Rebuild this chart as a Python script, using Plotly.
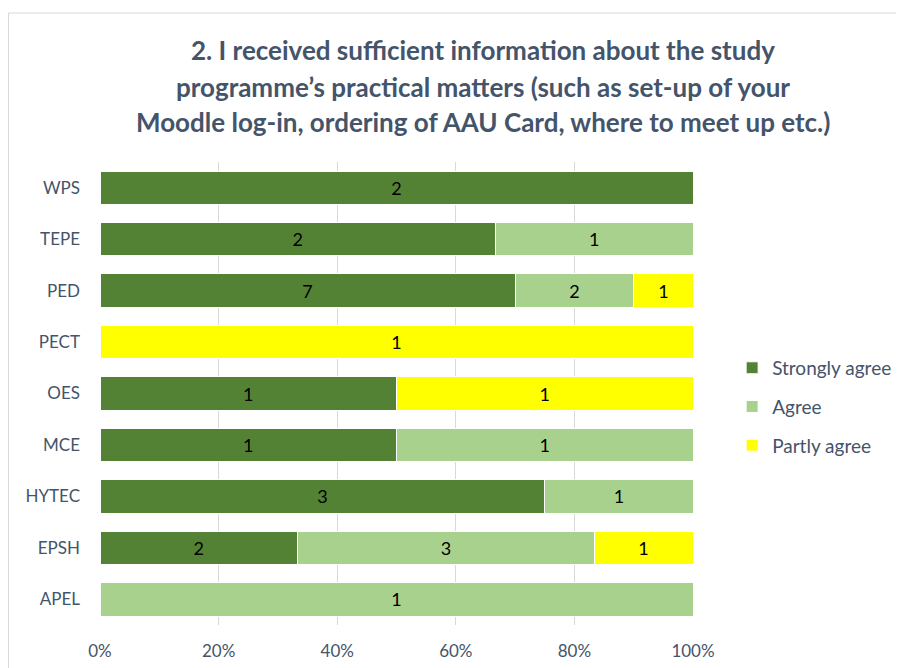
import plotly.graph_objects as go

programmes = ["WPS", "TEPE", "PED", "PECT", "OES", "MCE", "HYTEC", "EPSH", "APEL"]
strongly_agree = [2, 2, 7, 0, 1, 1, 3, 2, 0]
agree = [0, 1, 2, 0, 0, 1, 1, 3, 1]
partly_agree = [0, 0, 1, 1, 1, 0, 0, 1, 0]

series = [
    ("Strongly agree", strongly_agree, "#548235"),
    ("Agree", agree, "#A9D18E"),
    ("Partly agree", partly_agree, "#FFFF00"),
]

title_lines = [
    "2. I received sufficient information about the study",
    "programme’s practical matters (such as set-up of your",
    "Moodle log-in, ordering of AAU Card, where to meet up etc.)",
]

totals = [a + b + c for a, b, c in zip(strongly_agree, agree, partly_agree)]
FONT = "Lato, sans-serif"
TXT = "#44546A"

# plot area in figure pixels
L, T, PW, PH = 92, 154, 593, 463

fig = go.Figure()
for name, counts, color in series:
    shares = [c / t for c, t in zip(counts, totals)]
    fig.add_trace(go.Bar(
        y=programmes, x=shares, orientation="h", name=name,
        legendgroup=name,
        marker=dict(color=color, line=dict(color="white", width=1)),
        text=[str(c) if c else "" for c in counts],
        textposition="inside", insidetextanchor="middle",
        textfont=dict(color="black", size=18, family=FONT),
        hovertemplate=name + ": %{text}<extra></extra>",
    ))

# title lines as separate annotations to mimic the wide Excel line spacing
for ypos, line in zip([1.242, 1.162, 1.086], title_lines):
    fig.add_annotation(
        xref="paper", yref="paper", x=(475 - L) / PW, y=ypos,
        text=f"<b>{line}</b>", showarrow=False, xanchor="center", yanchor="middle",
        font=dict(size=26, color=TXT, family=FONT),
    )

# chart border
fig.add_shape(type="rect", xref="paper", yref="paper",
              x0=(0.5 - L) / PW, x1=1.6, y0=-0.3, y1=1 + (T - 5) / PH,
              line=dict(color="#D9D9D9", width=1), fillcolor="rgba(0,0,0,0)", layer="below")

fig.update_xaxes(
    range=[0, 1], tickvals=[0, 0.2, 0.4, 0.6, 0.8, 1.0], tickformat=".0%",
    showgrid=True, gridcolor="#D9D9D9", gridwidth=1, zeroline=False,
    ticklabelstandoff=14,
    tickfont=dict(size=17, color=TXT, family=FONT),
)
fig.update_yaxes(
    categoryorder="array", categoryarray=programmes, autorange="reversed",
    showgrid=False, ticklabelstandoff=19,
    tickfont=dict(size=17, color=TXT, family=FONT),
)

fig.update_layout(
    width=904, height=668,
    barmode="stack", bargap=0.35,
    plot_bgcolor="white", paper_bgcolor="white",
    margin=dict(l=L, r=904 - L - PW, t=T, b=668 - T - PH),
    showlegend=True,
    legend=dict(x=1.066, y=0.471, xanchor="left", yanchor="middle",
                font=dict(size=19, color=TXT, family=FONT),
                tracegroupgap=11, traceorder="grouped", itemwidth=30),
    font=dict(family=FONT),
)

fig.write_html("out.html")
